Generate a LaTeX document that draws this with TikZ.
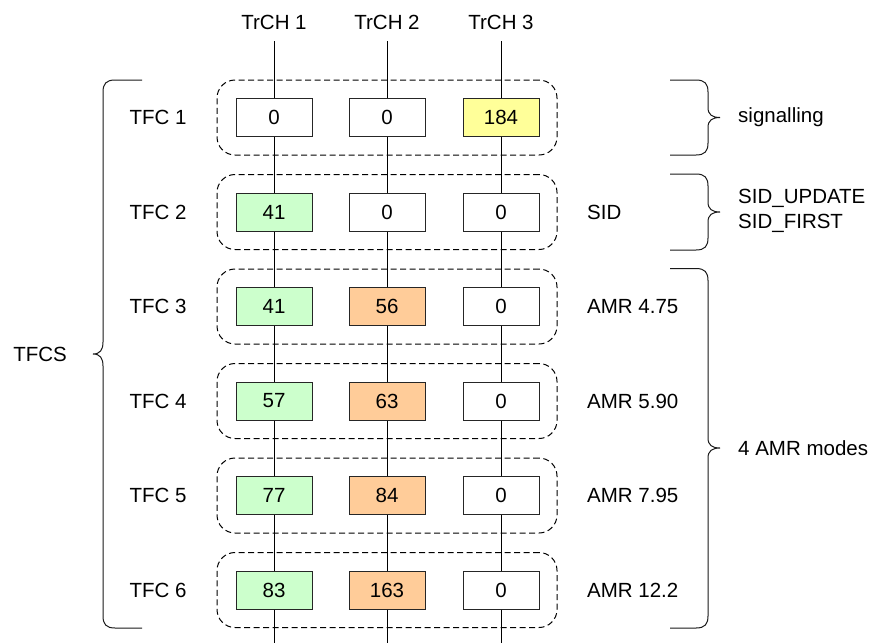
\documentclass[tikz,border=0pt]{standalone}
\usepackage{fontspec}
\setmainfont{Liberation Sans}
\definecolor{cgreen}{HTML}{CCFFCC}
\definecolor{corange}{HTML}{FFCC99}
\definecolor{cyellow}{HTML}{FFFF99}
\newcommand{\myrbrace}[3]{% top, bottom, mid
  \draw[brace] (670,#1) -- (696,#1) .. controls (705,#1) and (708,#1+4) .. (708,#1+12)
    -- (708,#3-10) .. controls (708,#3-3) and (712,#3) .. (720,#3)
    .. controls (712,#3) and (708,#3+3) .. (708,#3+10)
    -- (708,#2-12) .. controls (708,#2-4) and (705,#2) .. (696,#2) -- (670,#2);}
\begin{document}
\begin{tikzpicture}[x=1pt,y=-1pt,
  font=\fontsize{20.5}{25}\selectfont,
  cell/.style={draw=black!85, fill=white, minimum width=76pt, minimum height=38pt, inner sep=0pt, line width=1pt},
  grp/.style={draw=black, dash pattern=on 6pt off 3.5pt, rounded corners=18pt, line width=1pt, minimum width=340pt, minimum height=75pt, inner sep=0pt},
  wire/.style={draw=black, line width=0.9pt},
  brace/.style={draw=black!90, line width=1pt},
  lbl/.style={inner sep=0pt, anchor=west, align=left}]
\useasboundingbox (0,0) rectangle (874,643);

% headers
\node (h1) at (274,22) {TrCH 1};
\node (h2) at (387,22) {TrCH 2};
\node (h3) at (501,22) {TrCH 3};
\coordinate (t1) at (274,41); \coordinate (t2) at (387,41); \coordinate (t3) at (501,41);
\coordinate (b1) at (274,643); \coordinate (b2) at (387,643); \coordinate (b3) at (501,643);

% rows
\foreach \r/\y/\a/\ca/\b/\cb/\c/\cc in {
  1/117.5/0/white/0/white/184/cyellow,
  2/212/41/cgreen/0/white/0/white,
  3/306.5/41/cgreen/56/corange/0/white,
  4/401/57/cgreen/63/corange/0/white,
  5/495.5/77/cgreen/84/corange/0/white,
  6/590/83/cgreen/163/corange/0/white}{
  \node[grp] (g\r) at (387,\y) {};
  \node (tfc\r) at (158,\y) {TFC \r};
  \node[cell, fill=\ca] (c\r1) at (274,\y) {\a};
  \node[cell, fill=\cb] (c\r2) at (387,\y) {\b};
  \node[cell, fill=\cc] (c\r3) at (501,\y) {\c};
}

% wires
\foreach \k in {1,2,3}{
  \draw[wire] (t\k) -- (c1\k.north);
  \draw[wire] (c1\k.south) -- (c2\k.north);
  \draw[wire] (c2\k.south) -- (c3\k.north);
  \draw[wire] (c3\k.south) -- (c4\k.north);
  \draw[wire] (c4\k.south) -- (c5\k.north);
  \draw[wire] (c5\k.south) -- (c6\k.north);
  \draw[wire] (c6\k.south) -- (b\k);
}

% right labels
\node[lbl] (sid) at (587,212) {SID};
\node[lbl] (amr3) at (587,306.5) {AMR 4.75};
\node[lbl] (amr4) at (587,401) {AMR 5.90};
\node[lbl] (amr5) at (587,495.5) {AMR 7.95};
\node[lbl] (amr6) at (587,590) {AMR 12.2};

% left brace TFCS
\node[anchor=east, inner sep=0pt] (tfcs) at (67,354) {TFCS};
\draw[brace] (142,80) -- (115,80) .. controls (106,80) and (103,84) .. (103,92)
  -- (103,342) .. controls (103,350) and (100,354) .. (93,354)
  .. controls (100,354) and (103,358) .. (103,366)
  -- (103,616) .. controls (103,624) and (106,628) .. (115,628) -- (142,628);

% right braces
\myrbrace{80}{155}{117.5}
\myrbrace{174}{250}{212}
\myrbrace{268.5}{628}{448}

\node[lbl] (sig) at (738,117.5) {signalling};
\node[lbl] (sidu) at (738,211) {SID\_UPDATE\\SID\_FIRST};
\node[lbl] (modes) at (738,448) {4 AMR modes};
\end{tikzpicture}
\end{document}
